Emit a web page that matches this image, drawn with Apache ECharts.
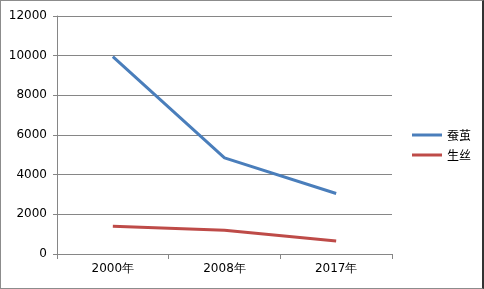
<!DOCTYPE html>
<html>
<head>
<meta charset="utf-8">
<script src="https://cdn.jsdelivr.net/npm/echarts@6/dist/echarts.min.js"></script>
<style>
  html, body { margin: 0; padding: 0; background: #fff; }
  #chart { width: 484px; height: 289px; box-sizing: border-box; border: 1px solid #8c8c8c; border-right: 2px solid #333; }
</style>
</head>
<body>
<div id="chart"></div>
<script>
const years = ['2000年', '2008年', '2017年'];
const cocoon = [9950, 4850, 3050];
const silk = [1400, 1200, 650];

const chart = echarts.init(document.getElementById('chart'));
const labelFont = { color: '#000', fontSize: 12, fontFamily: 'DejaVu Sans' };

chart.setOption({
  animation: false,
  grid: { left: 56, right: 90, top: 15, bottom: 34 },
  legend: {
    orient: 'vertical',
    left: 406,
    top: 123,
    itemWidth: 30,
    itemHeight: 3,
    itemGap: 8,
    icon: 'rect',
    textStyle: { color: '#000', fontSize: 12, fontFamily: 'Noto Sans CJK SC' },
    data: ['蚕茧', '生丝']
  },
  xAxis: {
    type: 'category',
    data: years,
    boundaryGap: true,
    axisLine: { lineStyle: { color: '#868686' } },
    axisTick: { show: true, length: 5, lineStyle: { color: '#868686' } },
    axisLabel: Object.assign({ margin: 9 }, labelFont)
  },
  yAxis: {
    type: 'value',
    min: 0,
    max: 12000,
    interval: 2000,
    axisLine: { show: true, lineStyle: { color: '#868686' } },
    axisTick: { show: true, length: 4, lineStyle: { color: '#868686' } },
    axisLabel: Object.assign({ margin: 10, formatter: v => String(v) }, labelFont),
    splitLine: { lineStyle: { color: '#868686' } }
  },
  series: [
    {
      name: '蚕茧',
      type: 'line',
      data: cocoon,
      symbol: 'none',
      lineStyle: { width: 3, color: '#4a7ebb' },
      itemStyle: { color: '#4a7ebb' }
    },
    {
      name: '生丝',
      type: 'line',
      data: silk,
      symbol: 'none',
      lineStyle: { width: 3, color: '#be4b48' },
      itemStyle: { color: '#be4b48' }
    }
  ]
});
</script>
</body>
</html>
